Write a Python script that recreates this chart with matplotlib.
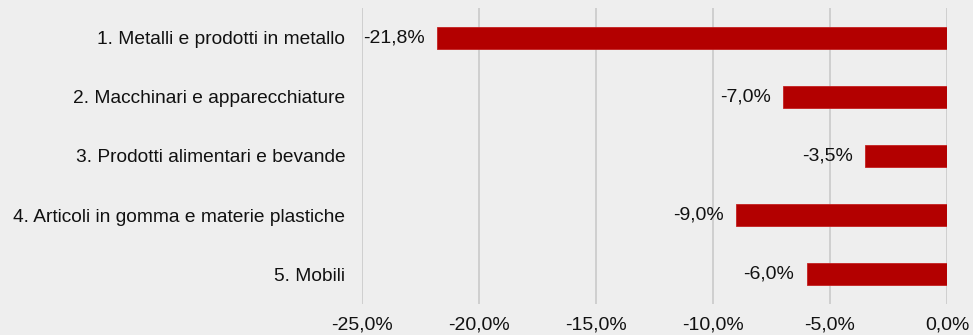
import matplotlib.pyplot as plt
import numpy as np

plt.rcParams["font.family"] = ["Liberation Sans", "DejaVu Sans"]

# Data
categories = [
    "1. Metalli e prodotti in metallo",
    "2. Macchinari e apparecchiature",
    "3. Prodotti alimentari e bevande",
    "4. Articoli in gomma e materie plastiche",
    "5. Mobili",
]
values = [-21.8, -7.0, -3.5, -9.0, -6.0]
x_ticks = [-25, -20, -15, -10, -5, 0]

BG = "#eeeeee"
BAR = "#b30000"

fig = plt.figure(figsize=(9.73, 3.35), dpi=100, facecolor=BG)
ax = fig.add_axes([362 / 973, 31 / 335, 585 / 973, 296 / 335])
ax.set_facecolor(BG)

y = np.arange(len(categories))

ax.barh(y, values, height=0.37, color=BAR, edgecolor="#c42020",
        linewidth=0.6, zorder=3)

for yi, v in zip(y, values):
    label = f"{v:.1f}%".replace(".", ",")
    ax.annotate(
        label,
        xy=(v, yi),
        xytext=(-9, 0),
        textcoords="offset points",
        ha="right",
        va="center",
        fontsize=14,
        color="#111111",
    )

ax.set_xlim(-25, 0)
ax.set_ylim(len(categories) - 0.5, -0.5)

ax.set_xticks(x_ticks)
ax.set_xticklabels(
    [f"{t:.1f}%".replace(".", ",") for t in x_ticks],
    fontsize=14,
    color="#111111",
)
ax.set_yticks(y)
ax.set_yticklabels(categories, fontsize=13.8, color="#111111")

ax.tick_params(axis="x", length=0, pad=9)
ax.tick_params(axis="y", length=0, pad=12)

ax.grid(True, axis="x", color="#cccccc", linewidth=1.3, zorder=0)

for spine in ax.spines.values():
    spine.set_visible(False)

plt.savefig("out.png", dpi=100, facecolor=BG)
